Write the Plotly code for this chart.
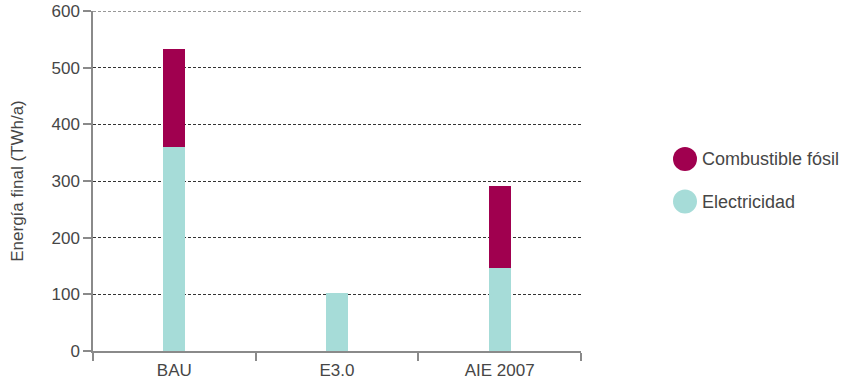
import plotly.graph_objects as go

# Final energy by scenario (TWh/a)
escenarios = ["BAU", "E3.0", "AIE 2007"]
electricidad = [360, 102, 147]
combustible_fosil = [173, 0, 144]

y_max = 600

color_fosil = "#A0004F"
color_elec = "#A6DCD8"
font_family = "Liberation Sans, Arial, sans-serif"
text_color = "#464646"
axis_color = "#8a8a8a"

fig = go.Figure()
fig.add_trace(go.Bar(x=escenarios, y=electricidad, name="Electricidad",
                     marker=dict(color=color_elec, line=dict(width=0)),
                     showlegend=False))
fig.add_trace(go.Bar(x=escenarios, y=combustible_fosil, name="Combustible fósil",
                     marker=dict(color=color_fosil, line=dict(width=0)),
                     showlegend=False))

fig.update_layout(
    width=841, height=382,
    margin=dict(l=93, r=260, t=11, b=31),
    barmode="stack",
    bargap=0.865,
    plot_bgcolor="white", paper_bgcolor="white",
    font=dict(family=font_family, size=17, color=text_color),
)

fig.update_xaxes(
    type="category",
    tickson="boundaries",
    ticks="outside", ticklen=8, tickwidth=1.5, tickcolor=axis_color,
    showline=True, linecolor=axis_color, linewidth=1.5,
    showgrid=False, zeroline=False, automargin=False,
    ticklabelstandoff=3,
    tickfont=dict(size=17, color=text_color),
)
fig.update_yaxes(
    range=[0, y_max], dtick=100,
    ticks="outside", ticklen=8, tickwidth=1.5, tickcolor=axis_color,
    showline=True, linecolor=axis_color, linewidth=1.5,
    showgrid=True, gridcolor="#333333", gridwidth=1, griddash="3px,2px",
    zeroline=False, automargin=False,
    tickfont=dict(size=17, color=text_color),
    title=dict(text="Energía final (TWh/a)", font=dict(size=17, color=text_color), standoff=24),
)

# Gridline along the top edge of the plot
fig.add_shape(type="line", xref="paper", yref="y", x0=0, x1=1, y0=y_max, y1=y_max,
              line=dict(color="#333333", width=1, dash="3px,2px"))

# Legend drawn as circles with labels (positions in pixels converted to paper coords)
plot_l, plot_w, plot_b, plot_h, fig_h = 93, 488, 31, 340, 382


def px_x(x):
    return (x - plot_l) / plot_w


def px_y(y):
    return ((fig_h - y) - plot_b) / plot_h


legend_items = [("Combustible fósil", color_fosil, 159), ("Electricidad", color_elec, 201.5)]
for label, color, yc in legend_items:
    fig.add_shape(type="circle", xref="paper", yref="paper",
                  x0=px_x(673), x1=px_x(697),
                  y0=px_y(yc + 12), y1=px_y(yc - 12),
                  fillcolor=color, line=dict(width=0))
    fig.add_annotation(text=label, xref="paper", yref="paper",
                       x=px_x(700), y=px_y(yc),
                       xanchor="left", yanchor="middle", showarrow=False,
                       font=dict(size=18, color=text_color))

fig.write_html("out.html")
